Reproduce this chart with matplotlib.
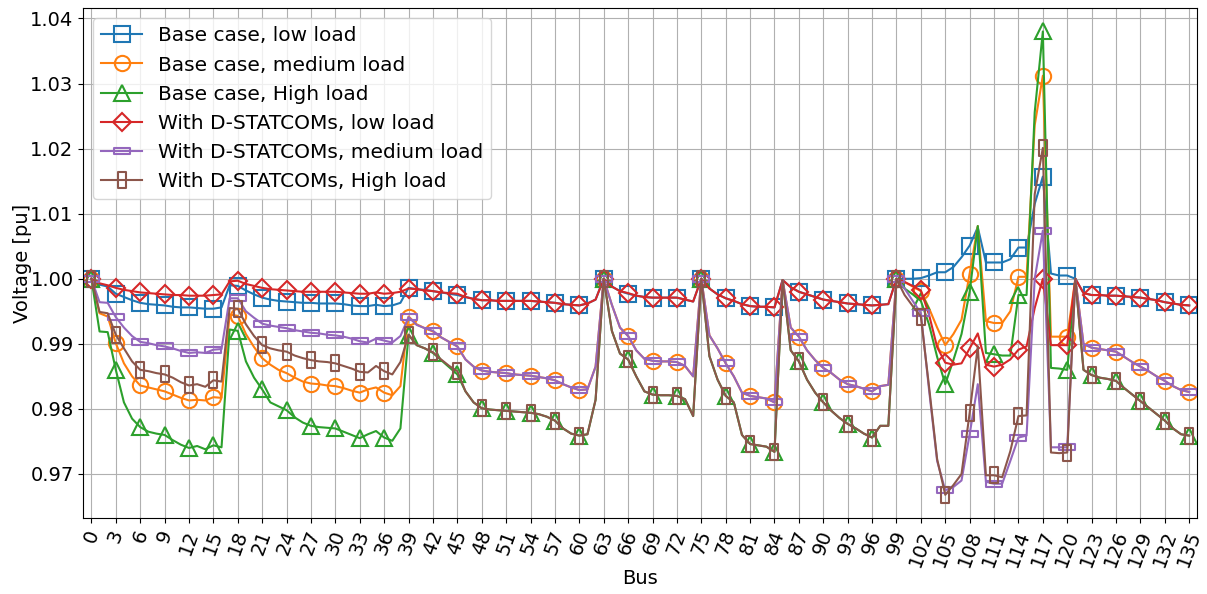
import numpy as np
import matplotlib.pyplot as plt
from matplotlib.path import Path

# bus voltages, buses 0..135
bus = np.arange(136)

base_low = [
    1.0000, 0.9991, 0.9988, 0.9977, 0.9972, 0.9967, 0.9963, 0.9961, 0.9960, 0.9959,
    0.9957, 0.9956, 0.9956, 0.9955, 0.9954, 0.9954, 0.9956, 0.9990, 0.9989, 0.9982,
    0.9976, 0.9971, 0.9968, 0.9966, 0.9965, 0.9964, 0.9963, 0.9963, 0.9962, 0.9962,
    0.9962, 0.9961, 0.9959, 0.9958, 0.9958, 0.9960, 0.9958, 0.9959, 0.9963, 0.9986,
    0.9984, 0.9983, 0.9981, 0.9979, 0.9977, 0.9975, 0.9972, 0.9969, 0.9967, 0.9967,
    0.9966, 0.9966, 0.9966, 0.9966, 0.9966, 0.9965, 0.9964, 0.9963, 0.9961, 0.9960,
    0.9959, 0.9962, 0.9968, 1.0000, 0.9988, 0.9981, 0.9977, 0.9974, 0.9972, 0.9971,
    0.9971, 0.9971, 0.9971, 0.9968, 0.9965, 1.0000, 0.9985, 0.9976, 0.9970, 0.9966,
    0.9961, 0.9958, 0.9957, 0.9957, 0.9956, 0.9998, 0.9987, 0.9980, 0.9976, 0.9972,
    0.9968, 0.9966, 0.9964, 0.9962, 0.9961, 0.9960, 0.9959, 0.9960, 0.9961, 1.0000,
    1.0000, 1.0000, 1.0001, 1.0005, 1.0010, 1.0010, 1.0018, 1.0033, 1.0051, 1.0079,
    1.0025, 1.0025, 1.0025, 1.0030, 1.0048, 1.0048, 1.0115, 1.0157, 1.0008, 1.0005,
    1.0005, 1.0000, 0.9978, 0.9975, 0.9975, 0.9974, 0.9974, 0.9973, 0.9972, 0.9971,
    0.9969, 0.9967, 0.9964, 0.9962, 0.9960, 0.9959]

base_med = [
    1.0000, 0.9947, 0.9942, 0.9901, 0.9870, 0.9850, 0.9836, 0.9833, 0.9830, 0.9827,
    0.9822, 0.9817, 0.9813, 0.9814, 0.9813, 0.9818, 0.9817, 0.9945, 0.9943, 0.9915,
    0.9895, 0.9878, 0.9868, 0.9860, 0.9855, 0.9848, 0.9842, 0.9839, 0.9838, 0.9836,
    0.9835, 0.9832, 0.9828, 0.9825, 0.9830, 0.9833, 0.9825, 0.9821, 0.9835, 0.9942,
    0.9930, 0.9924, 0.9919, 0.9910, 0.9903, 0.9896, 0.9876, 0.9865, 0.9859, 0.9857,
    0.9856, 0.9855, 0.9853, 0.9852, 0.9851, 0.9849, 0.9847, 0.9844, 0.9838, 0.9833,
    0.9829, 0.9830, 0.9865, 1.0000, 0.9960, 0.9925, 0.9912, 0.9890, 0.9877, 0.9874,
    0.9873, 0.9873, 0.9872, 0.9866, 0.9850, 1.0000, 0.9913, 0.9893, 0.9870, 0.9850,
    0.9825, 0.9820, 0.9818, 0.9816, 0.9810, 0.9998, 0.9925, 0.9911, 0.9890, 0.9875,
    0.9863, 0.9855, 0.9845, 0.9838, 0.9835, 0.9831, 0.9827, 0.9835, 0.9837, 1.0000,
    0.9995, 0.9988, 0.9981, 0.9955, 0.9925, 0.9898, 0.9915, 0.9937, 1.0008, 1.0081,
    0.9935, 0.9932, 0.9932, 0.9950, 1.0003, 1.0003, 1.0236, 1.0312, 0.9911, 0.9911,
    0.9911, 1.0000, 0.9900, 0.9894, 0.9892, 0.9890, 0.9888, 0.9880, 0.9872, 0.9865,
    0.9858, 0.9850, 0.9843, 0.9835, 0.9829, 0.9826]

base_high = [
    1.0000, 0.9919, 0.9918, 0.9860, 0.9810, 0.9785, 0.9772, 0.9765, 0.9762, 0.9760,
    0.9752, 0.9745, 0.9740, 0.9743, 0.9738, 0.9744, 0.9741, 0.9922, 0.9920, 0.9873,
    0.9848, 0.9830, 0.9810, 0.9804, 0.9798, 0.9787, 0.9779, 0.9774, 0.9772, 0.9771,
    0.9770, 0.9765, 0.9760, 0.9755, 0.9761, 0.9766, 0.9756, 0.9751, 0.9770, 0.9914,
    0.9898, 0.9893, 0.9886, 0.9875, 0.9864, 0.9853, 0.9827, 0.9810, 0.9801, 0.9799,
    0.9798, 0.9797, 0.9796, 0.9795, 0.9794, 0.9792, 0.9788, 0.9782, 0.9770, 0.9762,
    0.9759, 0.9761, 0.9814, 1.0000, 0.9920, 0.9885, 0.9876, 0.9850, 0.9827, 0.9822,
    0.9821, 0.9821, 0.9820, 0.9815, 0.9789, 1.0000, 0.9881, 0.9845, 0.9820, 0.9810,
    0.9760, 0.9746, 0.9744, 0.9742, 0.9734, 0.9998, 0.9890, 0.9873, 0.9845, 0.9825,
    0.9810, 0.9797, 0.9786, 0.9777, 0.9770, 0.9762, 0.9756, 0.9774, 0.9774, 1.0000,
    0.9985, 0.9976, 0.9966, 0.9930, 0.9880, 0.9838, 0.9875, 0.9915, 0.9980, 1.0081,
    0.9886, 0.9884, 0.9882, 0.9882, 0.9975, 0.9975, 1.0256, 1.0380, 0.9863, 0.9862,
    0.9860, 1.0000, 0.9860, 0.9852, 0.9848, 0.9846, 0.9843, 0.9832, 0.9822, 0.9812,
    0.9802, 0.9792, 0.9782, 0.9770, 0.9761, 0.9759]

stat_low = [
    1.0000, 0.9993, 0.9990, 0.9986, 0.9983, 0.9981, 0.9979, 0.9978, 0.9977, 0.9976,
    0.9975, 0.9975, 0.9974, 0.9974, 0.9974, 0.9975, 0.9976, 0.9996, 0.9997, 0.9992,
    0.9989, 0.9986, 0.9984, 0.9983, 0.9982, 0.9981, 0.9980, 0.9980, 0.9980, 0.9980,
    0.9980, 0.9979, 0.9978, 0.9977, 0.9977, 0.9979, 0.9977, 0.9978, 0.9980, 0.9985,
    0.9984, 0.9982, 0.9981, 0.9979, 0.9978, 0.9977, 0.9972, 0.9969, 0.9967, 0.9967,
    0.9966, 0.9966, 0.9966, 0.9966, 0.9966, 0.9965, 0.9964, 0.9963, 0.9961, 0.9960,
    0.9959, 0.9962, 0.9968, 1.0000, 0.9988, 0.9981, 0.9978, 0.9974, 0.9972, 0.9971,
    0.9971, 0.9971, 0.9971, 0.9968, 0.9965, 1.0000, 0.9985, 0.9976, 0.9970, 0.9966,
    0.9961, 0.9958, 0.9957, 0.9957, 0.9956, 0.9998, 0.9987, 0.9980, 0.9976, 0.9972,
    0.9968, 0.9966, 0.9964, 0.9962, 0.9961, 0.9960, 0.9959, 0.9960, 0.9961, 1.0000,
    0.9995, 0.9989, 0.9982, 0.9945, 0.9895, 0.9871, 0.9868, 0.9870, 0.9893, 0.9916,
    0.9868, 0.9865, 0.9868, 0.9876, 0.9891, 0.9896, 0.9955, 1.0000, 0.9898, 0.9898,
    0.9898, 1.0000, 0.9978, 0.9975, 0.9975, 0.9974, 0.9974, 0.9973, 0.9972, 0.9971,
    0.9969, 0.9967, 0.9964, 0.9962, 0.9960, 0.9959]

stat_med = [
    1.0000, 0.9964, 0.9963, 0.9941, 0.9925, 0.9912, 0.9903, 0.9901, 0.9898, 0.9896,
    0.9893, 0.9889, 0.9886, 0.9887, 0.9886, 0.9891, 0.9892, 0.9970, 0.9970, 0.9950,
    0.9940, 0.9931, 0.9928, 0.9926, 0.9924, 0.9921, 0.9919, 0.9917, 0.9916, 0.9914,
    0.9913, 0.9911, 0.9908, 0.9904, 0.9902, 0.9908, 0.9905, 0.9902, 0.9912, 0.9941,
    0.9929, 0.9924, 0.9920, 0.9910, 0.9903, 0.9896, 0.9876, 0.9865, 0.9859, 0.9857,
    0.9856, 0.9855, 0.9853, 0.9852, 0.9851, 0.9849, 0.9847, 0.9844, 0.9838, 0.9833,
    0.9829, 0.9830, 0.9865, 1.0000, 0.9960, 0.9925, 0.9912, 0.9890, 0.9877, 0.9874,
    0.9873, 0.9873, 0.9872, 0.9866, 0.9850, 1.0000, 0.9913, 0.9893, 0.9870, 0.9850,
    0.9825, 0.9820, 0.9818, 0.9816, 0.9810, 0.9998, 0.9925, 0.9911, 0.9890, 0.9875,
    0.9863, 0.9855, 0.9845, 0.9838, 0.9835, 0.9831, 0.9827, 0.9835, 0.9837, 1.0000,
    0.9985, 0.9966, 0.9947, 0.9830, 0.9720, 0.9675, 0.9680, 0.9690, 0.9761, 0.9838,
    0.9688, 0.9685, 0.9685, 0.9720, 0.9756, 0.9759, 1.0000, 1.0074, 0.9741, 0.9741,
    0.9741, 1.0000, 0.9900, 0.9894, 0.9892, 0.9890, 0.9888, 0.9880, 0.9872, 0.9865,
    0.9858, 0.9850, 0.9843, 0.9835, 0.9829, 0.9826]

stat_high = [
    1.0000, 0.9949, 0.9947, 0.9914, 0.9893, 0.9873, 0.9860, 0.9858, 0.9855, 0.9853,
    0.9848, 0.9841, 0.9836, 0.9838, 0.9834, 0.9844, 0.9842, 0.9955, 0.9954, 0.9930,
    0.9912, 0.9898, 0.9893, 0.9890, 0.9888, 0.9882, 0.9878, 0.9875, 0.9873, 0.9872,
    0.9870, 0.9866, 0.9862, 0.9857, 0.9856, 0.9866, 0.9858, 0.9853, 0.9872, 0.9914,
    0.9898, 0.9893, 0.9887, 0.9876, 0.9866, 0.9858, 0.9827, 0.9810, 0.9801, 0.9799,
    0.9798, 0.9797, 0.9796, 0.9795, 0.9794, 0.9792, 0.9788, 0.9782, 0.9770, 0.9762,
    0.9759, 0.9761, 0.9814, 1.0000, 0.9920, 0.9885, 0.9876, 0.9850, 0.9827, 0.9822,
    0.9821, 0.9821, 0.9820, 0.9815, 0.9789, 1.0000, 0.9881, 0.9845, 0.9820, 0.9810,
    0.9760, 0.9746, 0.9744, 0.9742, 0.9734, 0.9998, 0.9890, 0.9873, 0.9845, 0.9825,
    0.9810, 0.9797, 0.9786, 0.9777, 0.9770, 0.9762, 0.9756, 0.9774, 0.9774, 1.0000,
    0.9975, 0.9958, 0.9942, 0.9835, 0.9723, 0.9668, 0.9683, 0.9700, 0.9794, 0.9896,
    0.9698, 0.9698, 0.9695, 0.9735, 0.9789, 0.9790, 1.0130, 1.0201, 0.9733, 0.9732,
    0.9733, 1.0000, 0.9860, 0.9852, 0.9848, 0.9846, 0.9843, 0.9832, 0.9822, 0.9812,
    0.9802, 0.9792, 0.9782, 0.9770, 0.9761, 0.9759]

labels = ['Base case, low load', 'Base case, medium load', 'Base case, High load',
          'With D-STATCOMs, low load', 'With D-STATCOMs, medium load',
          'With D-STATCOMs, High load']

# flat and tall rectangle markers
wide_rect = Path([(-1, -0.4), (1, -0.4), (1, 0.4), (-1, 0.4), (-1, -0.4)],
                 [Path.MOVETO, Path.LINETO, Path.LINETO, Path.LINETO, Path.CLOSEPOLY])
tall_rect = Path([(-0.45, -1), (0.45, -1), (0.45, 1), (-0.45, 1), (-0.45, -1)],
                 [Path.MOVETO, Path.LINETO, Path.LINETO, Path.LINETO, Path.CLOSEPOLY])

series = [base_low, base_med, base_high, stat_low, stat_med, stat_high]
markers = ['s', 'o', '^', 'D', wide_rect, tall_rect]
sizes = [11, 11, 12, 9, 12, 12]
colors = ['tab:blue', 'tab:orange', 'tab:green', 'tab:red', 'tab:purple', 'tab:brown']

fig, ax = plt.subplots(figsize=(12.07, 5.94), dpi=100)
fig.subplots_adjust(left=0.069, right=0.992, top=0.986, bottom=0.128)

for v, lab, m, ms, c in zip(series, labels, markers, sizes, colors):
    ax.plot(bus, v, marker=m, markersize=ms, markevery=3, fillstyle='none',
            markeredgewidth=1.5, linewidth=1.5, color=c, label=lab)

ax.set_xlim(-1, 136)
ax.set_xticks(np.arange(0, 136, 3))
ax.tick_params(axis='x', labelrotation=70, labelsize=14)
ax.tick_params(axis='y', labelsize=14)
ax.set_xlabel('Bus', fontsize=14, labelpad=0)
ax.set_ylabel('Voltage [pu]', fontsize=14, labelpad=-1)
ax.grid(True)
ax.legend(loc='upper left', fontsize=14.5)

plt.savefig('out.png')
